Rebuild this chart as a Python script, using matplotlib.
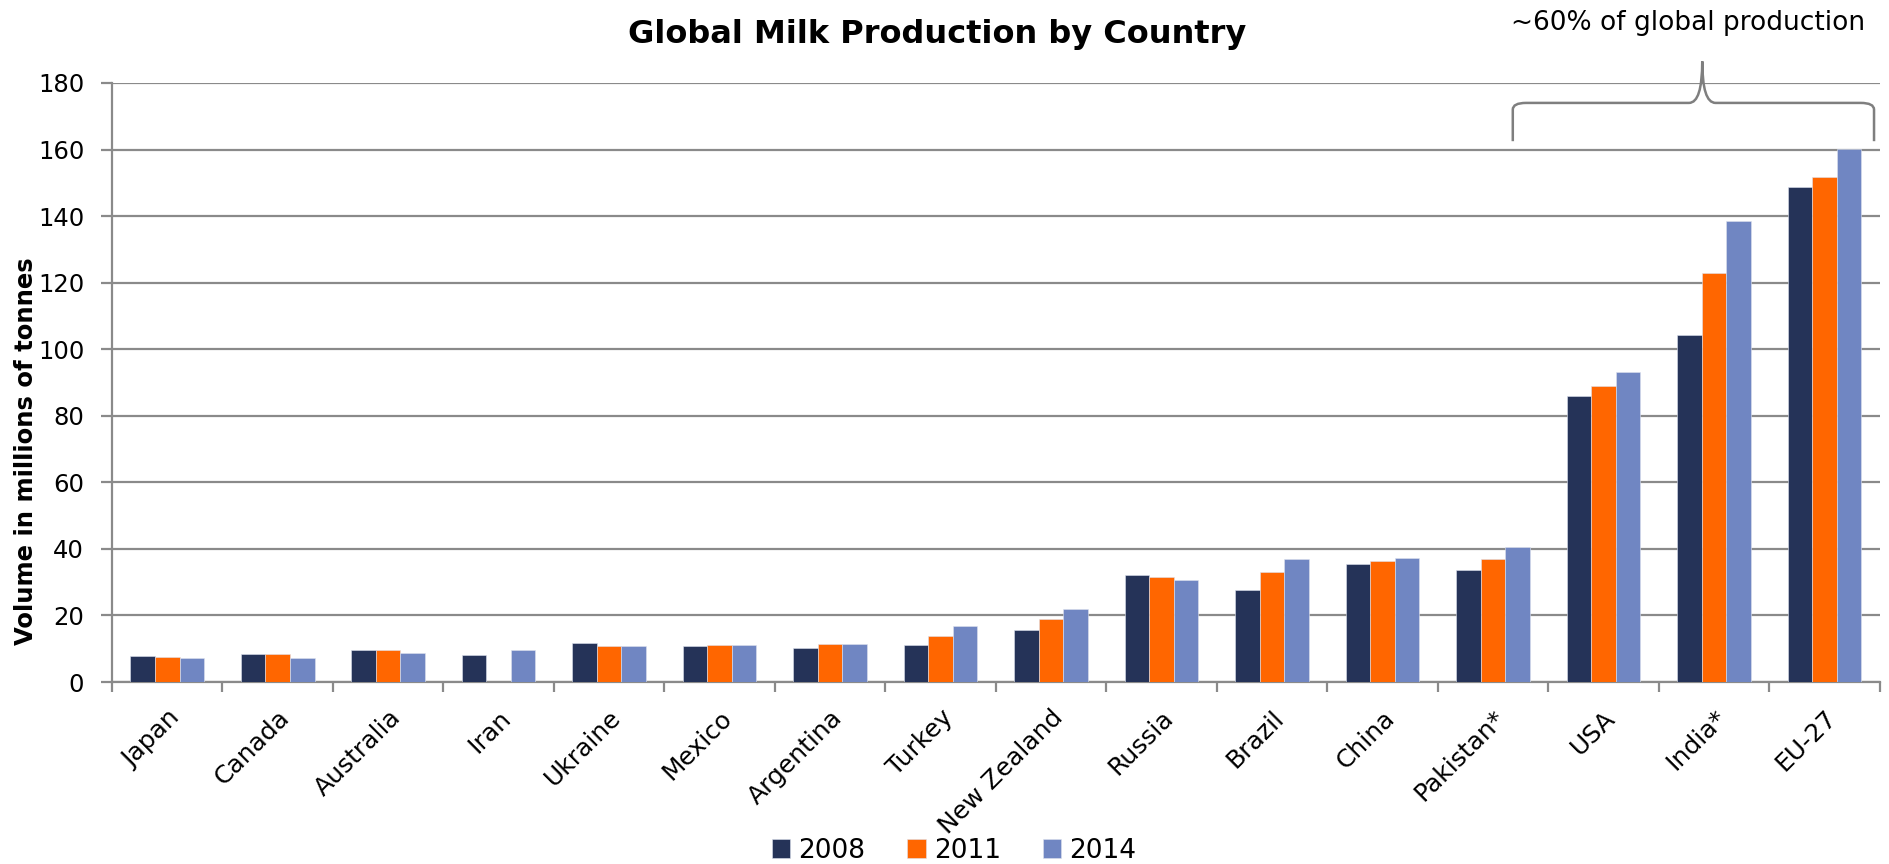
import numpy as np
import matplotlib
matplotlib.use('Agg')
import matplotlib.pyplot as plt
from matplotlib.path import Path
from matplotlib.patches import PathPatch

# Milk production, millions of tonnes
countries = ['Japan', 'Canada', 'Australia', 'Iran', 'Ukraine', 'Mexico', 'Argentina',
             'Turkey', 'New Zealand', 'Russia', 'Brazil', 'China', 'Pakistan*', 'USA',
             'India*', 'EU-27']
prod_2008 = [7.8, 8.3, 9.6, 8.0, 11.7, 10.8, 10.1, 11.2, 15.6, 32.3, 27.6, 35.6, 33.6, 86.0, 104.3, 148.7]
prod_2011 = [7.4, 8.5, 9.6, np.nan, 10.7, 11.0, 11.4, 13.7, 18.9, 31.7, 33.1, 36.5, 37.0, 88.8, 122.8, 151.7]
prod_2014 = [7.2, 7.2, 8.6, 9.6, 10.8, 11.2, 11.3, 16.8, 21.9, 30.8, 37.0, 37.2, 40.6, 93.2, 138.6, 160.2]
years = ['2008', '2011', '2014']
colors = ['#253358', '#ff6600', '#7086c2']

big_producers = ['Pakistan*', 'USA', 'India*', 'EU-27']

fig = plt.figure(figsize=(18.89, 8.64), dpi=100)
ax = fig.add_axes([0.0593, 0.2106, 0.9357, 0.6934])

x = np.arange(len(countries))
w = 0.222
for i, (vals, yr, c) in enumerate(zip([prod_2008, prod_2011, prod_2014], years, colors)):
    ax.bar(x + (i - 1) * w, vals, width=w, color=c, label=yr, zorder=3,
           edgecolor='#dde2ee', linewidth=0.4)

ax.set_xlim(-0.5, len(countries) - 0.5)
ax.set_ylim(0, 180)
ax.set_yticks(np.arange(0, 181, 20))
ax.yaxis.grid(True, color='#8a8a8a', linewidth=1.6, zorder=0)
ax.set_axisbelow(True)

ax.set_xticks(x)
ax.set_xticklabels(countries, rotation=45, ha='right', rotation_mode='anchor', fontsize=18)
ax.tick_params(axis='x', length=0, pad=17)
ax.set_xticks(np.arange(-0.5, len(countries)), minor=True)
ax.tick_params(axis='x', which='minor', length=7, width=1.6, color='#8a8a8a', direction='out')
ax.tick_params(axis='y', labelsize=17.5, length=8, width=1.6, color='#8a8a8a', pad=12)

for s in ['top', 'right']:
    ax.spines[s].set_visible(False)
for s in ['left', 'bottom']:
    ax.spines[s].set_color('#8a8a8a')
    ax.spines[s].set_linewidth(1.6)

ax.set_ylabel('Volume in millions of tonnes', fontsize=17.5, fontweight='bold')
ax.yaxis.set_label_coords(-0.0416, 0.386)
fig.suptitle('Global Milk Production by Country', fontsize=23, fontweight='bold', y=0.978, x=0.496)

# curly brace over the four largest producers
x0 = countries.index(big_producers[0]) + 0.18
x1 = countries.index(big_producers[-1]) + 0.45
xm = (x0 + x1) / 2 + 0.08
yb, yh, yt = 162.5, 174.0, 186.5
r = 0.12
verts = [(x0, yb), (x0, yh - 2), (x0, yh), (x0 + r, yh),
         (xm - r, yh), (xm, yh), (xm, yt),
         (xm, yh), (xm + r, yh),
         (x1 - r, yh), (x1, yh), (x1, yh - 2), (x1, yb)]
codes = [Path.MOVETO, Path.LINETO, Path.CURVE3, Path.CURVE3,
         Path.LINETO, Path.CURVE3, Path.CURVE3,
         Path.CURVE3, Path.CURVE3,
         Path.LINETO, Path.CURVE3, Path.CURVE3, Path.LINETO]
ax.add_patch(PathPatch(Path(verts, codes), facecolor='none', edgecolor='#7f7f7f',
                       linewidth=1.8, clip_on=False, zorder=4))
ax.text(13.77, 198, '~60% of global production', ha='center', va='center',
        fontsize=19, clip_on=False)

fig.legend(loc='lower center', ncol=3, frameon=False, fontsize=19, bbox_to_anchor=(0.505, -0.027),
           handlelength=0.7, handleheight=0.7, handletextpad=0.3, columnspacing=1.6)

fig.savefig('out.png', dpi=100)
